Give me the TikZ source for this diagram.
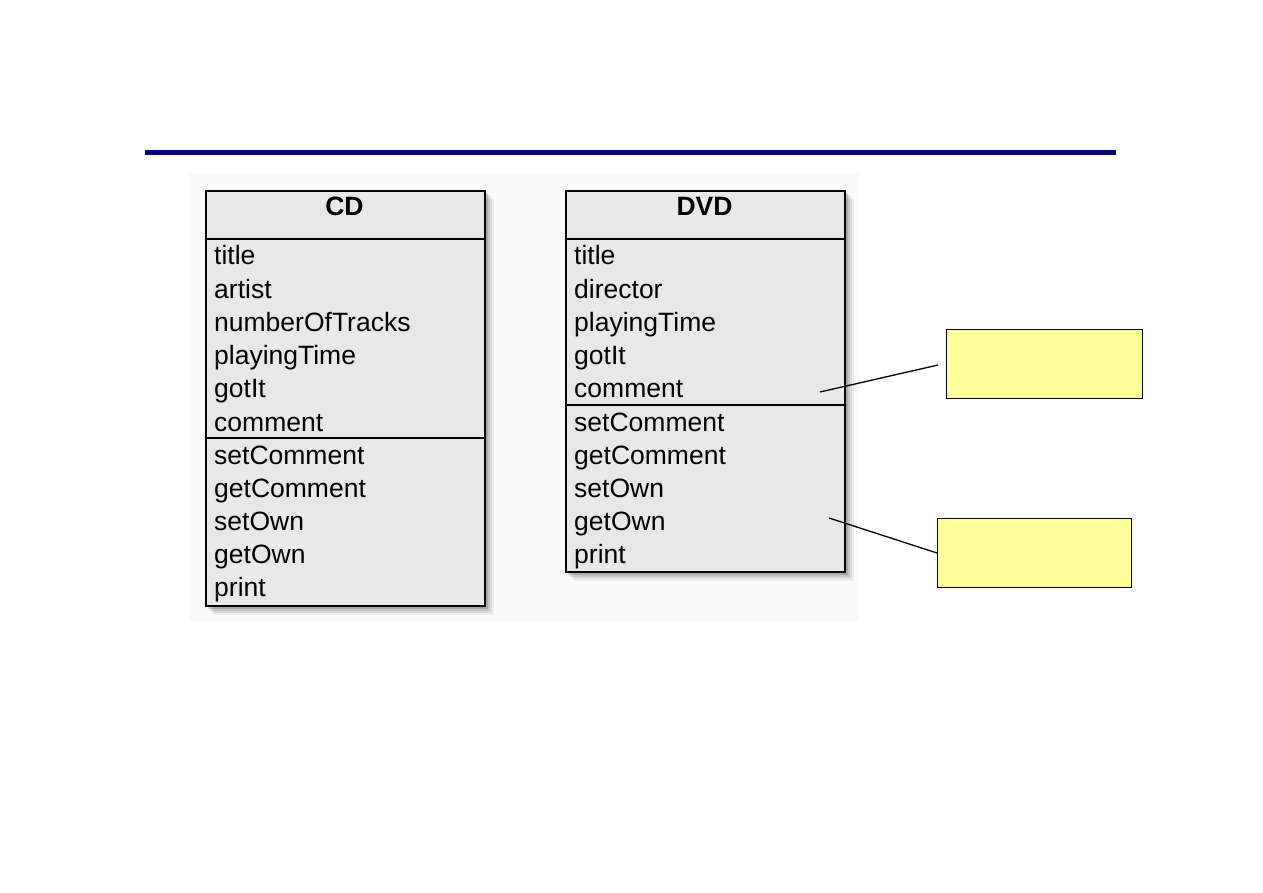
\documentclass[tikz,border=0pt]{standalone}
\usepackage{fontspec}
\setmainfont{Liberation Sans}
\definecolor{navy}{RGB}{0,0,128}
\definecolor{umlgray}{RGB}{232,232,232}
\definecolor{panel}{RGB}{250,250,250}
\definecolor{noteyellow}{RGB}{255,255,156}
\tikzset{
  umlbox/.style={draw=black, line width=2.4pt, fill=umlgray},
  rowtext/.style={anchor=base west, inner sep=0pt, font=\fontsize{26.5}{26.5}\selectfont},
  headtext/.style={anchor=base, inner sep=0pt, font=\fontsize{26.5}{26.5}\selectfont\bfseries},
  divider/.style={draw=black, line width=2pt},
  notebox/.style={draw=black, line width=1.2pt, fill=noteyellow, rectangle, inner sep=0pt},
  connector/.style={draw=black, line width=1.3pt}
}
\newcommand{\softshadow}[4]{%
  \foreach \d/\o in {10/0.05,8/0.07,6/0.10,4/0.14}{
    \fill[black, opacity=\o] (#1+\d-1,#2+\d-1) rectangle (#3+\d,#4+\d);
  }%
}
\begin{document}
\begin{tikzpicture}[x=1pt,y=-1pt]
\useasboundingbox[fill=white] (0,0) rectangle (1263,893);
% title rule
\draw[navy, line width=5pt] (145,153) -- (1116,153);
% background panel
\fill[panel] (189,173) rectangle (859,621);
% CD box
\softshadow{205}{190}{484}{605}
\node[umlbox, rectangle, minimum width=279pt, minimum height=415pt, anchor=north west, inner sep=0pt] (cd) at (205,190) {};
\draw[divider] (205,239) -- (484,239);
\draw[divider] (205,438) -- (484,438);
\node[headtext] (cdh) at (344.5,216) {CD};
\node[rowtext] (cd1) at (214,265) {title};
\node[rowtext] (cd2) at (214,298.2) {artist};
\node[rowtext] (cd3) at (214,331.4) {numberOfTracks};
\node[rowtext] (cd4) at (214,364.6) {playingTime};
\node[rowtext] (cd5) at (214,397.8) {gotIt};
\node[rowtext] (cd6) at (214,431) {comment};
\node[rowtext] (cd7) at (214,464) {setComment};
\node[rowtext] (cd8) at (214,497.2) {getComment};
\node[rowtext] (cd9) at (214,530.4) {setOwn};
\node[rowtext] (cd10) at (214,563.6) {getOwn};
\node[rowtext] (cd11) at (214,596.8) {print};
% DVD box
\softshadow{565}{190}{844}{571}
\node[umlbox, rectangle, minimum width=279pt, minimum height=381pt, anchor=north west, inner sep=0pt] (dvd) at (565,190) {};
\draw[divider] (565,239) -- (844,239);
\draw[divider] (565,405) -- (844,405);
\node[headtext] (dvdh) at (704.5,216) {DVD};
\node[rowtext] (dvd1) at (574,265) {title};
\node[rowtext] (dvd2) at (574,298.2) {director};
\node[rowtext] (dvd3) at (574,331.4) {playingTime};
\node[rowtext] (dvd4) at (574,364.6) {gotIt};
\node[rowtext] (dvd5) at (574,397.8) {comment};
\node[rowtext] (dvd6) at (574,431) {setComment};
\node[rowtext] (dvd7) at (574,464.2) {getComment};
\node[rowtext] (dvd8) at (574,497.4) {setOwn};
\node[rowtext] (dvd9) at (574,530.6) {getOwn};
\node[rowtext] (dvd10) at (574,563.8) {print};
% notes
\node[notebox, minimum width=196pt, minimum height=69pt, anchor=north west] (note1) at (946,329) {};
\node[notebox, minimum width=194pt, minimum height=69pt, anchor=north west] (note2) at (937,518) {};
% connectors
\coordinate (p1) at (820,392);
\coordinate (q1) at (938,365);
\coordinate (p2) at (829,518);
\draw[connector] (p1) -- (q1);
\draw[connector] (p2) -- (note2.west |- 0,553);
\end{tikzpicture}
\end{document}
